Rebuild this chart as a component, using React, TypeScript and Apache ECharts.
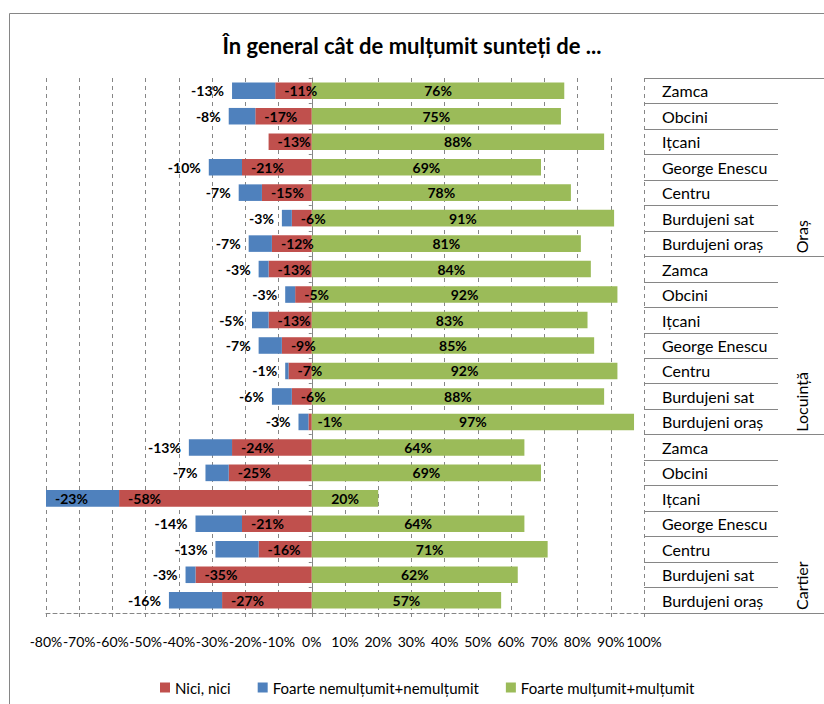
import React, { useEffect, useRef } from 'react';
import * as echarts from 'echarts';

const chartTitle = 'În general cât de mulțumit sunteți de ...';
const neighbourhoods = ['Zamca', 'Obcini', 'Ițcani', 'George Enescu', 'Centru', 'Burdujeni sat', 'Burdujeni oraș'];
const groups = ['Oraș', 'Locuință', 'Cartier'];
const rowLabels = [...neighbourhoods, ...neighbourhoods, ...neighbourhoods];
const seriesNames = ['Nici, nici', 'Foarte nemulțumit+nemulțumit', 'Foarte mulțumit+mulțumit'];

// top-to-bottom rows: Oraș (7), Locuință (7), Cartier (7)
const niciValues = [-11, -17, -13, -21, -15, -6, -12, -13, -5, -13, -9, -7, -6, -1, -24, -25, -58, -21, -16, -35, -27];
const nemultumitValues = [-13, -8, 0, -10, -7, -3, -7, -3, -3, -5, -7, -1, -6, -3, -13, -7, -23, -14, -13, -3, -16];
const multumitValues = [76, 75, 88, 69, 78, 91, 81, 84, 92, 83, 85, 92, 88, 97, 64, 69, 20, 64, 71, 62, 57];

const xMin = -80;
const xMax = 100;
const xInterval = 10;

const FONT = 'Lato, "Open Sans", sans-serif';
const GRAY = '#868686';
const RED = '#C0504D';
const BLUE = '#4F81BD';
const GREEN = '#9BBB59';

export default function App() {
  const ref = useRef<HTMLDivElement>(null);

  useEffect(() => {
    document.body.style.margin = '0';
    const chart = echarts.init(ref.current as HTMLDivElement, null, { renderer: 'svg' });

    const labelBase = {
      show: true,
      color: '#000',
      fontFamily: FONT,
      fontSize: 14,
      fontWeight: 'bold',
      formatter: (p: any) => (p.value === 0 ? '' : p.value + '%'),
    };

    const option: any = {
      animation: false,
      backgroundColor: '#fff',
      textStyle: { fontFamily: FONT },
      title: {
        text: chartTitle,
        left: 'center',
        top: 29,
        textStyle: { fontSize: 22, fontWeight: 'bold', color: '#000', fontFamily: FONT },
      },
      legend: {
        data: seriesNames,
        left: 160,
        top: 680,
        padding: 0,
        itemWidth: 10,
        itemHeight: 10,
        itemGap: 27,
        icon: 'rect',
        textStyle: { fontSize: 15, color: '#000', fontFamily: FONT },
      },
      grid: { left: 46, right: 180, top: 78, bottom: 91, containLabel: false },
      xAxis: {
        type: 'value',
        min: xMin,
        max: xMax,
        interval: xInterval,
        axisLine: { show: true, onZero: false, lineStyle: { color: GRAY, type: [4, 3] } },
        axisTick: { show: true, length: 4, lineStyle: { color: GRAY } },
        axisLabel: {
          formatter: '{value}%',
          fontSize: 14,
          color: '#000',
          margin: 21,
          fontFamily: FONT,
          showMinLabel: true,
          showMaxLabel: true,
        },
        splitLine: { show: true, lineStyle: { color: GRAY, type: [4, 4] } },
      },
      yAxis: [
        {
          type: 'category',
          data: rowLabels,
          inverse: true,
          axisLine: { show: true, onZero: true, lineStyle: { color: GRAY } },
          axisTick: { show: true, length: 3, lineStyle: { color: GRAY } },
          axisLabel: { show: false },
          splitLine: { show: false },
        },
        {
          type: 'category',
          data: rowLabels,
          inverse: true,
          position: 'right',
          axisLine: { show: false, onZero: false },
          axisTick: { show: true, length: 134, lineStyle: { color: GRAY } },
          axisLabel: { show: true, align: 'left', margin: 18, fontSize: 16, color: '#000', fontFamily: FONT },
          splitLine: { show: false },
        },
        {
          type: 'category',
          data: groups,
          inverse: true,
          position: 'right',
          offset: 134,
          axisLine: { show: false, onZero: false },
          axisTick: { show: true, length: 46, lineStyle: { color: GRAY } },
          axisLabel: { show: false },
          splitLine: { show: false },
        },
      ],
      graphic: [
        {
          id: 'border',
          type: 'rect',
          x: 9.5,
          y: 13.5,
          silent: true,
          z: -10,
          shape: { x: 0, y: 0, width: 840, height: 720 },
          style: { fill: 'none', stroke: GRAY, lineWidth: 1 },
        },
      ],
      series: [
        {
          name: seriesNames[0],
          type: 'bar',
          stack: 'total',
          barCategoryGap: '35%',
          data: niciValues,
          itemStyle: { color: RED },
          label: { ...labelBase, position: 'insideLeft', distance: 9 },
        },
        {
          name: seriesNames[1],
          type: 'bar',
          stack: 'total',
          barCategoryGap: '35%',
          data: nemultumitValues.map((v, i) =>
            i === 16 ? { value: v, label: { position: 'insideLeft', distance: 9 } } : v
          ),
          itemStyle: { color: BLUE },
          label: { ...labelBase, position: 'left', distance: 8 },
        },
        {
          name: seriesNames[2],
          type: 'bar',
          stack: 'total',
          barCategoryGap: '35%',
          data: multumitValues,
          itemStyle: { color: GREEN },
          label: { ...labelBase, position: 'inside' },
        },
      ],
    };

    chart.setOption(option);

    // group labels, placed from the group axis scale
    const centers = groups.map((g) => chart.convertToPixel({ yAxisIndex: 2 }, g) as number);
    const band = centers.length > 1 ? centers[1] - centers[0] : 0;
    const xRight = chart.convertToPixel({ xAxisIndex: 0 }, xMax) as number;
    chart.setOption({
      graphic: groups.map((g, i) => ({
        id: 'grp' + i,
        type: 'text',
        x: xRight + 134 + 23,
        y: centers[i] + band / 2 - 3,
        rotation: Math.PI / 2,
        silent: true,
        style: {
          text: g,
          fontSize: 16,
          fontFamily: FONT,
          fill: '#000',
          align: 'left',
          verticalAlign: 'middle',
        },
      })),
    });

    return () => {
      chart.dispose();
    };
  }, []);

  return <div ref={ref} style={{ width: 824, height: 704 }} />;
}
